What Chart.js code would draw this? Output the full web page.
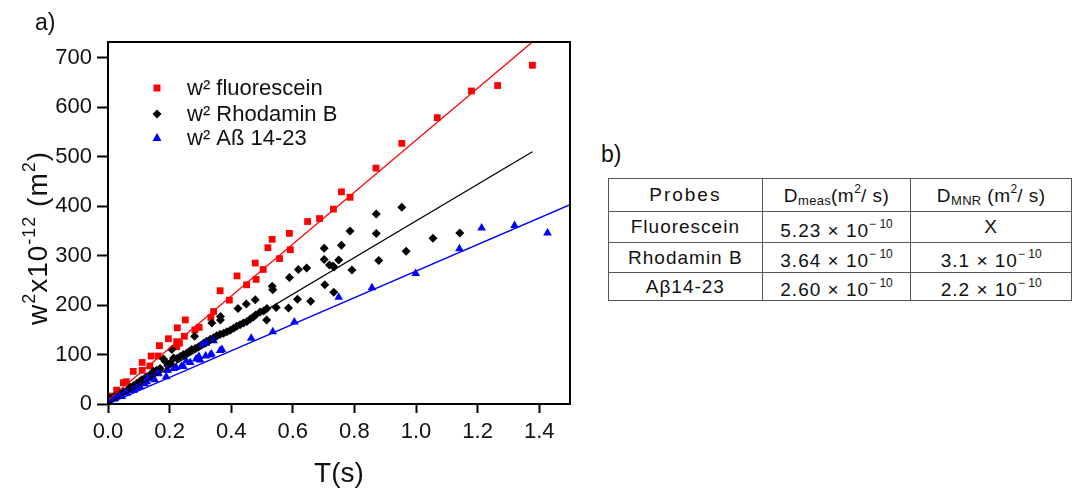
<!DOCTYPE html>
<html>
<head>
<meta charset="utf-8">
<script src="https://cdn.jsdelivr.net/npm/chart.js@4.4.1/dist/chart.umd.min.js"></script>
<style>
body{margin:0;background:#fff;font-family:"Liberation Sans",Arial,sans-serif;color:#111;}
#wrap{position:absolute;left:0;top:0;width:600px;height:491px;}
.lab{position:absolute;font-size:23px;}
table{position:absolute;left:608px;top:178px;border-collapse:collapse;font-size:19px;letter-spacing:1px;}
td{border:1px solid #555;padding:0;text-align:center;white-space:nowrap;line-height:20px;}
sub{font-size:13px;vertical-align:-3px;letter-spacing:0.3px;}
sup{font-size:12px;vertical-align:9px;letter-spacing:0;}
</style>
</head>
<body>
<div id="wrap"><canvas id="c" width="600" height="491"></canvas></div>
<div class="lab" style="left:35px;top:9px">a)</div>
<div class="lab" style="left:601px;top:141px">b)</div>
<table>
<tr style="height:28px"><td style="width:153px;letter-spacing:2px">Probes</td><td style="width:148px;letter-spacing:0.5px">D<sub>meas</sub>(m<sup>2</sup>/ s)</td><td style="width:160px;letter-spacing:0.5px">D<sub>MNR</sub> (m<sup>2</sup>/ s)</td></tr>
<tr style="height:31px"><td>Fluorescein</td><td>5.23 × 10<sup>− 10</sup></td><td>X</td></tr>
<tr style="height:30px"><td>Rhodamin B</td><td>3.64 × 10<sup>− 10</sup></td><td>3.1 × 10<sup>− 10</sup></td></tr>
<tr style="height:28px"><td>Aβ14-23</td><td>2.60 × 10<sup>− 10</sup></td><td>2.2 × 10<sup>− 10</sup></td></tr>
</table>
<script>
// w^2 (x1e-12 m^2) vs T (s)
const fluorT = [0.010,0.028,0.050,0.059,0.082,0.111,0.111,0.136,0.140,0.163,0.167,0.196,0.223,0.223,0.225,0.232,0.248,0.251,0.282,0.296,0.334,0.343,0.364,0.394,0.419,0.450,0.478,0.481,0.504,0.519,0.533,0.557,0.589,0.592,0.648,0.687,0.732,0.758,0.786,0.870,0.954,1.069,1.180,1.265,1.378];
const fluorW = [16,28,43,45,66,68,84,77,97,97,118,132,116,126,154,123,137,170,150,155,175,187,229,210,259,241,285,252,272,316,333,294,345,312,369,375,394,429,418,477,527,579,633,644,685];

const rhodT = [0.007,0.018,0.029,0.040,0.050,0.062,0.072,0.083,0.094,0.104,
  0.110,0.120,0.126,0.138,0.148,0.158,0.169,0.180,0.186,0.194,
  0.202,0.207,0.213,0.224,0.234,0.245,0.256,0.264,0.272,0.281,
  0.283,0.294,0.302,0.310,0.320,0.332,0.337,0.343,0.353,0.364,
  0.365,0.365,0.375,0.386,0.397,0.408,0.418,0.422,0.429,0.440,
  0.449,0.451,0.462,0.472,0.478,0.479,0.494,0.505,0.515,0.516,
  0.533,0.535,0.546,0.586,0.589,0.615,0.618,0.645,0.658,0.702,
  0.702,0.704,0.719,0.730,0.733,0.734,0.749,0.758,0.786,0.792,
  0.871,0.871,0.879,0.954,0.968,1.055,1.142];
const rhodW = [12,14,18,22,25,28,34,37,42,46,
  49,52,55,60,66,68,72,91,86,78,
  83,110,93,92,96,100,103,106,110,137,
  112,116,119,123,127,131,164,134,138,141,
  170,177,143,146,149,153,157,193,160,164,
  202,167,172,176,211,180,186,188,170,193,
  238,231,195,194,256,212,272,275,208,292,
  315,241,281,279,226,277,291,321,350,271,
  345,384,290,398,309,335,346];

const abT = [0.005,0.021,0.023,0.037,0.045,0.059,0.061,0.081,0.083,0.092,
  0.104,0.119,0.126,0.129,0.148,0.151,0.162,0.164,0.189,0.191,
  0.194,0.213,0.221,0.238,0.245,0.254,0.267,0.286,0.295,0.299,
  0.308,0.317,0.319,0.332,0.336,0.343,0.364,0.370,0.465,0.535,
  0.605,0.749,0.857,0.999,1.141,1.213,1.320,1.427];
const abW = [5,10,12,15,15,23,22,28,28,32,
  35,41,45,52,52,49,61,62,55,69,
  68,72,74,76,76,87,84,91,96,89,
  120,97,123,99,101,128,108,110,133,146,
  166,216,235,264,314,356,361,346];

// fitted lines (end points)
const fluorFitT = [0, 1.378], fluorFitW = [8, 732];
const rhodFitT = [0, 1.378], rhodFitW = [0, 510];
const abFitT = [0, 1.5], abFitW = [0, 403];

const legendLabels = ['w² fluorescein', 'w² Rhodamin B', 'w² Aß 14-23'];
const xTicks = [0, 0.2, 0.4, 0.6, 0.8, 1.0, 1.2, 1.4];

const pts = (t, w) => t.map((v, i) => ({x: v, y: w[i]}));
const FONT = '"Liberation Sans", Arial, sans-serif';

function fitLine(t, w, col) {
  return {type: 'line', data: pts(t, w), borderColor: col, borderWidth: 1.3,
    pointRadius: 0, fill: false, order: 0};
}

const decor = {
  id: 'decor',
  afterDraw(chart) {
    const {ctx, chartArea: a} = chart;
    ctx.save();
    ctx.strokeStyle = '#000';
    ctx.lineWidth = 2;
    ctx.strokeRect(a.left, a.top, a.right - a.left, a.bottom - a.top);

    // legend inside plot
    const mx = a.left + 49, tx = a.left + 79;
    const rows = [a.top + 46, a.top + 72, a.top + 96];
    ctx.fillStyle = '#f00';
    ctx.fillRect(mx - 3.5, rows[0] - 3.5, 7, 7);
    ctx.fillStyle = '#000';
    ctx.beginPath();
    ctx.moveTo(mx, rows[1] - 4.5); ctx.lineTo(mx + 4.5, rows[1]);
    ctx.lineTo(mx, rows[1] + 4.5); ctx.lineTo(mx - 4.5, rows[1]);
    ctx.closePath(); ctx.fill();
    ctx.fillStyle = '#00f';
    ctx.beginPath();
    ctx.moveTo(mx, rows[2] - 5); ctx.lineTo(mx + 4.5, rows[2] + 3);
    ctx.lineTo(mx - 4.5, rows[2] + 3); ctx.closePath(); ctx.fill();
    ctx.fillStyle = '#111';
    ctx.font = '22px ' + FONT;
    ctx.textBaseline = 'middle';
    legendLabels.forEach((s, i) => ctx.fillText(s, tx, rows[i] + 1));

    // y axis title with superscripts
    const parts = [['w', 0], ['2', 1], ['x10', 0], ['-12', 1], [' (m', 0], ['2', 1], [')', 0]];
    const big = '28px ' + FONT, small = '18px ' + FONT;
    ctx.letterSpacing = '1px';
    let total = 0;
    parts.forEach(p => { ctx.font = p[1] ? small : big; total += ctx.measureText(p[0]).width; });
    ctx.translate(47, 238);
    ctx.rotate(-Math.PI / 2);
    ctx.textBaseline = 'alphabetic';
    let x = -total / 2;
    parts.forEach(p => {
      ctx.font = p[1] ? small : big;
      ctx.fillText(p[0], x, p[1] ? -12 : 0);
      x += ctx.measureText(p[0]).width;
    });
    ctx.restore();
  }
};

new Chart(document.getElementById('c'), {
  type: 'scatter',
  data: {
    datasets: [
      fitLine(fluorFitT, fluorFitW, '#f00'),
      fitLine(rhodFitT, rhodFitW, '#000'),
      fitLine(abFitT, abFitW, '#00f'),
      {label: legendLabels[2], data: pts(abT, abW), pointStyle: 'triangle', pointRadius: 5,
        backgroundColor: '#00f', borderColor: '#00f', borderWidth: 0, order: 1},
      {label: legendLabels[1], data: pts(rhodT, rhodW), pointStyle: 'rectRot', pointRadius: 4.5,
        backgroundColor: '#000', borderColor: '#000', borderWidth: 0, order: 2},
      {label: legendLabels[0], data: pts(fluorT, fluorW), pointStyle: 'rect', pointRadius: 4.8,
        backgroundColor: '#f00', borderColor: '#f00', borderWidth: 0, order: 3}
    ]
  },
  options: {
    responsive: false,
    animation: false,
    devicePixelRatio: 1,
    layout: {padding: {top: 42, right: 30, left: 0, bottom: 0}},
    plugins: {legend: {display: false}, tooltip: {enabled: false}},
    scales: {
      x: {
        type: 'linear', min: 0, max: 1.5,
        afterFit: s => { s.height = 87; },
        afterBuildTicks: s => { s.ticks = xTicks.map(v => ({value: v})); },
        ticks: {callback: v => v.toFixed(1), font: {family: FONT, size: 22}, color: '#111', padding: 6, maxRotation: 0},
        grid: {drawOnChartArea: false, tickLength: 9, tickColor: '#000', tickWidth: 2},
        border: {color: '#000', width: 2},
        title: {display: true, text: 'T(s)', font: {family: FONT, size: 28}, color: '#111', padding: {top: 4, bottom: 0}}
      },
      y: {
        type: 'linear', min: 0, max: 732,
        afterFit: s => { s.width = 108; },
        ticks: {stepSize: 100, includeBounds: false, font: {family: FONT, size: 22}, color: '#111', padding: 5},
        grid: {drawOnChartArea: false, tickLength: 11, tickColor: '#000', tickWidth: 2},
        border: {color: '#000', width: 2}
      }
    }
  },
  plugins: [decor]
});
</script>
</body>
</html>
